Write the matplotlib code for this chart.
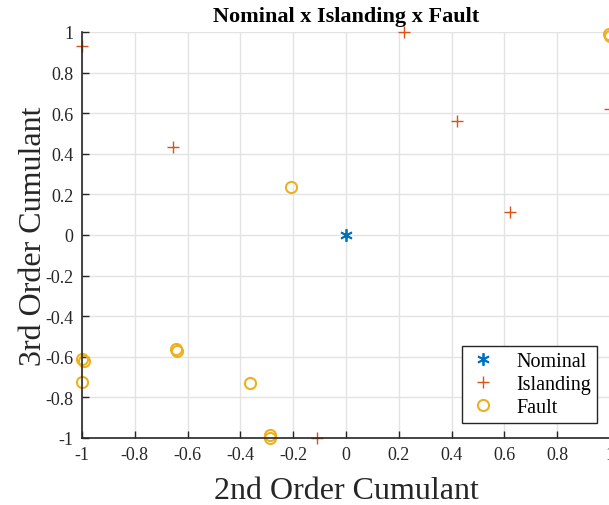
import matplotlib.pyplot as plt

plt.rcParams['font.family'] = ['Liberation Serif', 'DejaVu Serif']

# data
nominal_x = [0.0]
nominal_y = [0.0]

islanding_x = [-1.0, 0.22, 1.0, 0.42, -0.655, 0.62, -0.11]
islanding_y = [0.93, 1.0, 0.62, 0.563, 0.433, 0.113, -1.0]

fault_x = [1.0, 0.998, -0.208, -0.644, -0.642, -0.364, -0.288, -0.288, -1.0, -0.993, -1.0]
fault_y = [0.98, 0.99, 0.236, -0.562, -0.57, -0.727, -0.985, -1.0, -0.61, -0.622, -0.724]

ticks = [-1, -0.8, -0.6, -0.4, -0.2, 0, 0.2, 0.4, 0.6, 0.8, 1]
tick_labels = ['-1', '-0.8', '-0.6', '-0.4', '-0.2', '0', '0.2', '0.4', '0.6', '0.8', '1']

fig = plt.figure(figsize=(6.09, 5.06), dpi=100)
ax = fig.add_axes([82 / 609, 67 / 506, 528 / 609, 406 / 506])

ax.plot(nominal_x, nominal_y, linestyle='none', marker=(6, 2, 0), color='#0072BD',
        markersize=9, markeredgewidth=1.3, label='Nominal', clip_on=False)
ax.plot(islanding_x, islanding_y, linestyle='none', marker='+', color='#D95319',
        markersize=9, markeredgewidth=1.0, label='Islanding', clip_on=False)
ax.plot(fault_x, fault_y, linestyle='none', marker='o', markerfacecolor='none',
        markeredgecolor='#EDB120', markersize=8, markeredgewidth=1.5, label='Fault',
        clip_on=False)

ax.set_xlim(-1, 1)
ax.set_ylim(-1, 1)
ax.set_xticks(ticks)
ax.set_xticklabels(tick_labels)
ax.set_yticks(ticks)
ax.set_yticklabels(tick_labels)
ax.tick_params(direction='in', length=5, width=1, colors='#262626', labelsize=13,
               labelcolor='#262626', pad=6)
ax.grid(True, color='#e3e3e3', linewidth=1)
ax.set_axisbelow(True)
for side in ['top', 'right']:
    ax.spines[side].set_visible(False)
for side in ['left', 'bottom']:
    ax.spines[side].set_color('#262626')
    ax.spines[side].set_linewidth(1.2)

ax.set_title('Nominal x Islanding x Fault', fontsize=16, fontweight='bold', y=1.0, pad=8)
ax.set_xlabel('2nd Order Cumulant', fontsize=23, color='#262626', labelpad=9)
ax.set_ylabel('3rd Order Cumulant', fontsize=23, color='#262626', labelpad=-2)

leg = ax.legend(loc='lower right', bbox_to_anchor=(597 / 609, (506 - 424) / 506),
                bbox_transform=fig.transFigure, fontsize=14.5, fancybox=False,
                framealpha=1, edgecolor='#262626', borderpad=0.3, labelspacing=0.2,
                handletextpad=0.9, handlelength=1.5, borderaxespad=0)
leg.get_frame().set_linewidth(1)

fig.savefig('out.png', dpi=100)
